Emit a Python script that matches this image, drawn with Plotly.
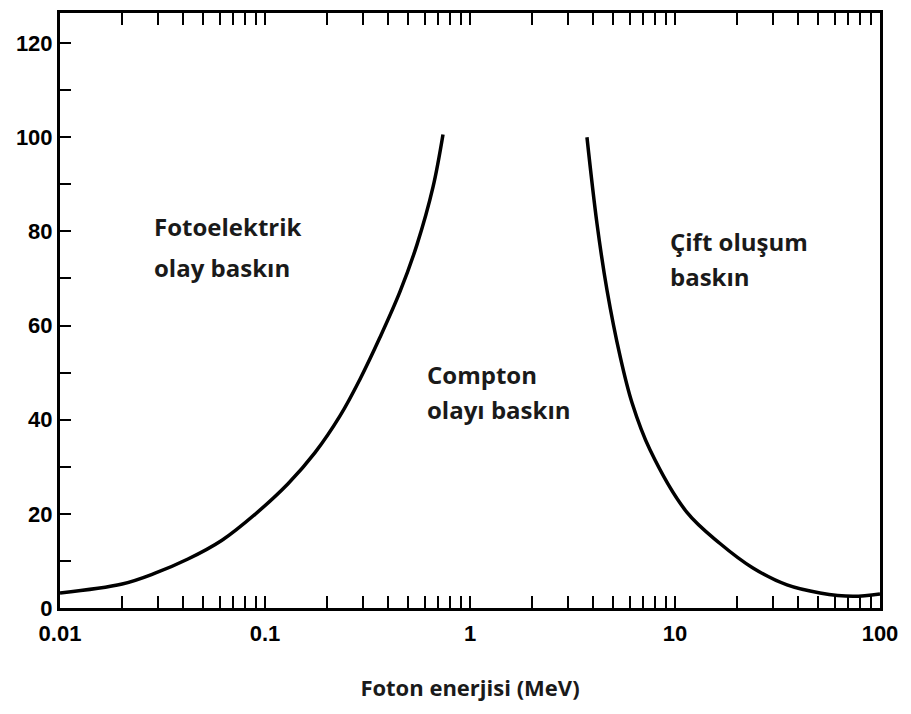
import math
import plotly.graph_objects as go

# Photoelectric / Compton boundary
left_x = [0.01, 0.0201, 0.0291, 0.0421, 0.0617, 0.0894, 0.1295, 0.1753, 0.2322, 0.2906, 0.3639, 0.4555, 0.5513, 0.6598, 0.7384]
left_y = [3.2, 5.1, 7.4, 10.4, 14.4, 19.9, 26.4, 33.0, 40.8, 48.6, 57.5, 67.2, 77.2, 89.4, 100.6]

# Compton / pair production boundary
right_x = [3.72, 4.165, 4.66, 5.39, 6.17, 7.55, 11.44, 16.58, 24.0, 35.2, 51.0, 73.8, 100.0]
right_y = [100.0, 81.6, 67.5, 53.6, 43.6, 33.6, 20.3, 13.7, 8.5, 4.9, 3.2, 2.5, 3.0]

x_tickvals = [m * 10.0 ** e for e in range(-2, 2) for m in range(1, 10)] + [100]
x_ticklabels = {0.01: "0.01", 0.1: "0.1", 1: "1", 10: "10", 100: "100"}
y_tickvals = [0, 10, 20, 30, 40, 50, 60, 70, 80, 90, 100, 110, 120]

region_labels = [
    (0.0281, 81.0, "Fotoelektrik"),
    (0.0281, 72.3, "olay baskın"),
    (0.603, 49.7, "Compton"),
    (0.603, 42.1, "olayı baskın"),
    (9.25, 77.8, "Çift oluşum"),
    (9.25, 70.4, "baskın"),
]
x_title = "Foton enerjisi (MeV)"


def xlabel(v):
    for k, t in x_ticklabels.items():
        if abs(v - k) < 1e-9 * max(1, k):
            return t
    return ""


fig = go.Figure()
for xs, ys in [(left_x, left_y), (right_x, right_y)]:
    fig.add_trace(go.Scatter(x=xs, y=ys, mode="lines",
                             line=dict(color="black", width=3.5, shape="spline", smoothing=1.0),
                             showlegend=False, hoverinfo="skip"))

label_font = dict(family="Open Sans", size=24, color="#1a1a1a", weight="bold")
for x, y, t in region_labels:
    fig.add_annotation(x=math.log10(x), y=y, text=t, showarrow=False,
                       xanchor="left", yanchor="middle", font=label_font)

tickfont = dict(family="Liberation Sans", size=22, color="black", weight="bold")
fig.update_layout(
    width=911, height=714,
    margin=dict(l=60, r=31, t=10, b=106),
    paper_bgcolor="white", plot_bgcolor="white",
    xaxis=dict(type="log", range=[-2, 2], tickvals=x_tickvals,
               ticktext=[xlabel(v) for v in x_tickvals],
               ticks="inside", ticklen=12, tickwidth=2, tickcolor="black",
               showline=True, linewidth=3, linecolor="black", mirror="ticks",
               showgrid=False, zeroline=False, tickfont=tickfont,
               ticklabelstandoff=4,
               title=dict(text=x_title, standoff=36,
                          font=dict(family="Open Sans", size=22, color="#1a1a1a", weight="bold"))),
    yaxis=dict(range=[0, 126.4], tickvals=y_tickvals,
               ticktext=[str(v) if v % 20 == 0 else "" for v in y_tickvals],
               ticks="inside", ticklen=11, tickwidth=2, tickcolor="black",
               showline=True, linewidth=3, linecolor="black", mirror=True,
               showgrid=False, zeroline=False, tickfont=tickfont),
)

fig.write_html("out.html")
